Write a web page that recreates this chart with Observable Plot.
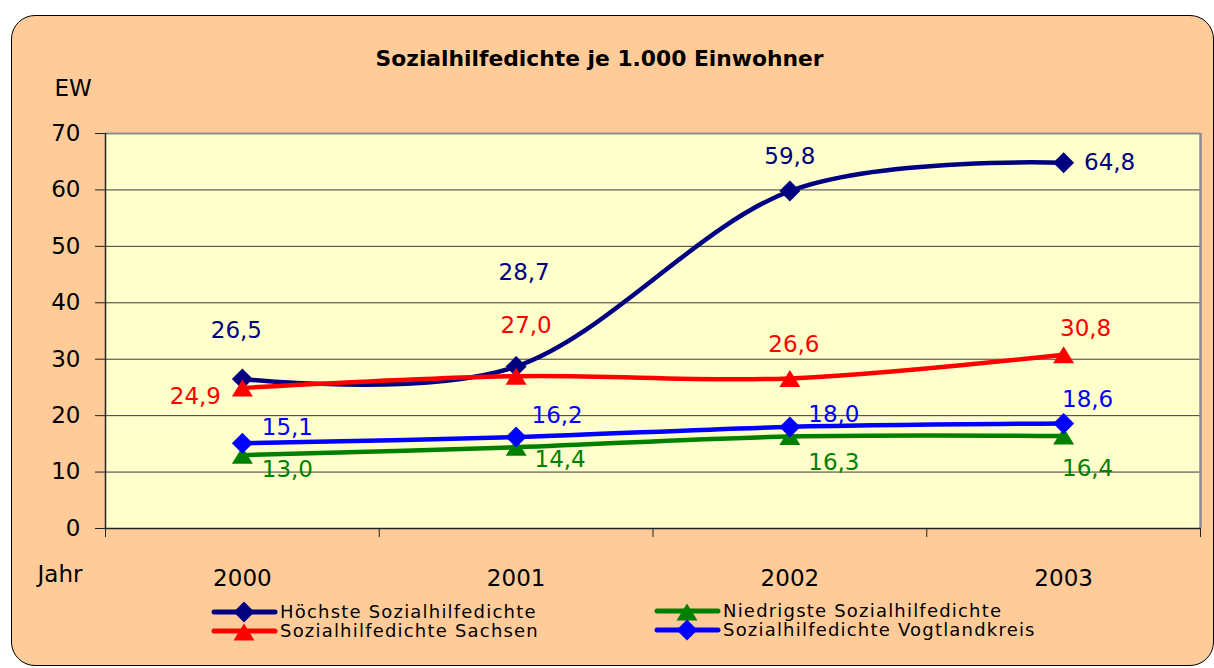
<!DOCTYPE html>
<html>
<head>
<meta charset="utf-8">
<script src="https://cdn.jsdelivr.net/npm/d3@7"></script>
<script src="https://cdn.jsdelivr.net/npm/@observablehq/plot@0.6"></script>
<style>
  html, body { margin: 0; padding: 0; background: #ffffff; }
  #wrap { position: relative; width: 1214px; height: 668px; overflow: hidden; font-family: "DejaVu Sans", sans-serif; }
  #frame { position: absolute; left: 11px; top: 15px; width: 1203px; height: 651px; box-sizing: border-box;
           background: #FFCC99; border: 1.5px solid #000; border-radius: 24px; }
  #chart, #legend { position: absolute; left: 0; top: 0; }
</style>
</head>
<body>
<div id="wrap">
  <div id="frame"></div>
  <div id="chart"></div>
  <svg id="legend" width="1214" height="668"></svg>
</div>
<script>
// ---- data ----
const years = ["2000", "2001", "2002", "2003"];
const seriesNames = [
  "Höchste Sozialhilfedichte",
  "Niedrigste Sozialhilfedichte",
  "Sozialhilfedichte Sachsen",
  "Sozialhilfedichte Vogtlandkreis"
];
const hoechste   = [26.5, 28.7, 59.8, 64.8];
const niedrigste = [13.0, 14.4, 16.3, 16.4];
const sachsen    = [24.9, 27.0, 26.6, 30.8];
const vogtland   = [15.1, 16.2, 18.0, 18.6];
const yTicks = [0, 10, 20, 30, 40, 50, 60, 70];
const titleText = "Sozialhilfedichte je 1.000 Einwohner";
const yAxisTitle = "EW";
const xAxisTitle = "Jahr";

// ---- styles ----
const seriesValues = [hoechste, niedrigste, sachsen, vogtland];
const colors = ["#000080", "#008000", "#FF0000", "#0000FF"];
const symbolKinds = ["diamond", "triangle", "triangle", "diamond"];
// pixel offsets of each value label from its point
const labelOffsets = [
  [[-6, -48], [8, -94], [0, -34], [46, 0]],
  [[45, 14], [44, 12], [44, 26], [24, 33]],
  [[-47, 9], [10, -51], [4, -34], [22, -26]],
  [[45, -16], [41, -21], [44, -12], [24, -24]]
];

const diamondSym = { draw(ctx) { const a = 10.5; ctx.moveTo(0, -a); ctx.lineTo(a, 0); ctx.lineTo(0, a); ctx.lineTo(-a, 0); ctx.closePath(); } };
const triangleSym = { draw(ctx) { const w = 10.5, h = 8.5; ctx.moveTo(0, -h); ctx.lineTo(w, h); ctx.lineTo(-w, h); ctx.closePath(); } };
const symOf = k => k === "diamond" ? diamondSym : triangleSym;

const fmt = v => v.toFixed(1).replace(".", ",");
const bounds = d3.range(years.length + 1).map(i => i - 0.5);

const marks = [
  Plot.frame({ fill: "#FFFFCC", stroke: null }),
  Plot.ruleY(yTicks.slice(1, -1), { stroke: "#3a3a3a", strokeWidth: 1 }),
  Plot.ruleY([yTicks[yTicks.length - 1]], { stroke: "#8c8c8c", strokeWidth: 2 }),
  Plot.ruleX([bounds[bounds.length - 1]], { stroke: "#8c8c8c", strokeWidth: 2.5 }),
  Plot.ruleX([bounds[0]], { stroke: "#222", strokeWidth: 1.5 }),
  Plot.ruleY([0], { stroke: "#222", strokeWidth: 1.5 }),
  Plot.axisY(yTicks, { tickSize: 10, tickPadding: 15, fontSize: 23, fill: "#000", stroke: "#222", tickFormat: d => String(d), label: null }),
  Plot.axisX(bounds, { tickSize: 9, tickFormat: () => "", stroke: "#222", label: null }),
  Plot.text(years, { x: (d, i) => i, frameAnchor: "bottom", lineAnchor: "middle", dy: 50, text: d => d, fontSize: 23, fill: "#000" }),
  Plot.text([titleText], { frameAnchor: "top-left", lineAnchor: "middle", dx: 494, dy: -74, textAnchor: "middle", fontSize: 21.8, fontWeight: "bold", fill: "#000", text: d => d }),
  Plot.text([yAxisTitle], { frameAnchor: "top-left", lineAnchor: "middle", dx: -51, dy: -45, textAnchor: "start", fontSize: 23, fill: "#000", text: d => d }),
  Plot.text([xAxisTitle], { frameAnchor: "bottom-left", lineAnchor: "middle", dx: -68, dy: 46, textAnchor: "start", fontSize: 23, fill: "#000", text: d => d })
];

seriesValues.forEach((vals, s) => {
  const rows = vals.map((v, i) => ({ i, v }));
  marks.push(Plot.line(rows, { x: "i", y: "v", stroke: colors[s], strokeWidth: 4.5, curve: "cardinal", tension: 0 }));
  marks.push(Plot.dot(rows, { x: "i", y: "v", fill: colors[s], stroke: null, symbol: symOf(symbolKinds[s]), r: 8 }));
});
seriesValues.forEach((vals, s) => {
  vals.forEach((v, i) => {
    const [dx, dy] = labelOffsets[s][i];
    marks.push(Plot.text([{ i, v }], { x: "i", y: "v", text: d => fmt(d.v), fill: colors[s], fontSize: 23, dx, dy }));
  });
});

const chart = Plot.plot({
  width: 1214,
  height: 668,
  marginLeft: 105,
  marginRight: 14,
  marginTop: 133,
  marginBottom: 140,
  style: { background: "transparent", fontFamily: "DejaVu Sans, sans-serif", overflow: "visible" },
  x: { type: "linear", domain: [bounds[0], bounds[bounds.length - 1]], axis: null },
  y: { domain: [yTicks[0], yTicks[yTicks.length - 1]], axis: null },
  marks
});
document.getElementById("chart").appendChild(chart);

// ---- legend ----
const legendSvg = d3.select("#legend");
const legendPos = [
  { x: 214, y: 612 }, { x: 657, y: 611 },
  { x: 214, y: 631 }, { x: 657, y: 630 }
];
seriesNames.forEach((name, s) => {
  const p = legendPos[s];
  const g = legendSvg.append("g");
  g.append("line").attr("x1", p.x).attr("x2", p.x + 61).attr("y1", p.y).attr("y2", p.y)
    .attr("stroke", colors[s]).attr("stroke-width", 5).attr("stroke-linecap", "round");
  const path = d3.path();
  symOf(symbolKinds[s]).draw(path);
  g.append("path").attr("d", path.toString()).attr("fill", colors[s])
    .attr("transform", `translate(${p.x + 30},${p.y + (symbolKinds[s] === "triangle" ? 1 : 0)})`);
  g.append("text").attr("x", p.x + 66).attr("y", p.y).attr("dy", "0.36em")
    .attr("font-family", "DejaVu Sans, sans-serif").attr("font-size", 18)
    .attr("letter-spacing", "1.2px").attr("fill", "#000").text(name);
});
</script>
</body>
</html>
